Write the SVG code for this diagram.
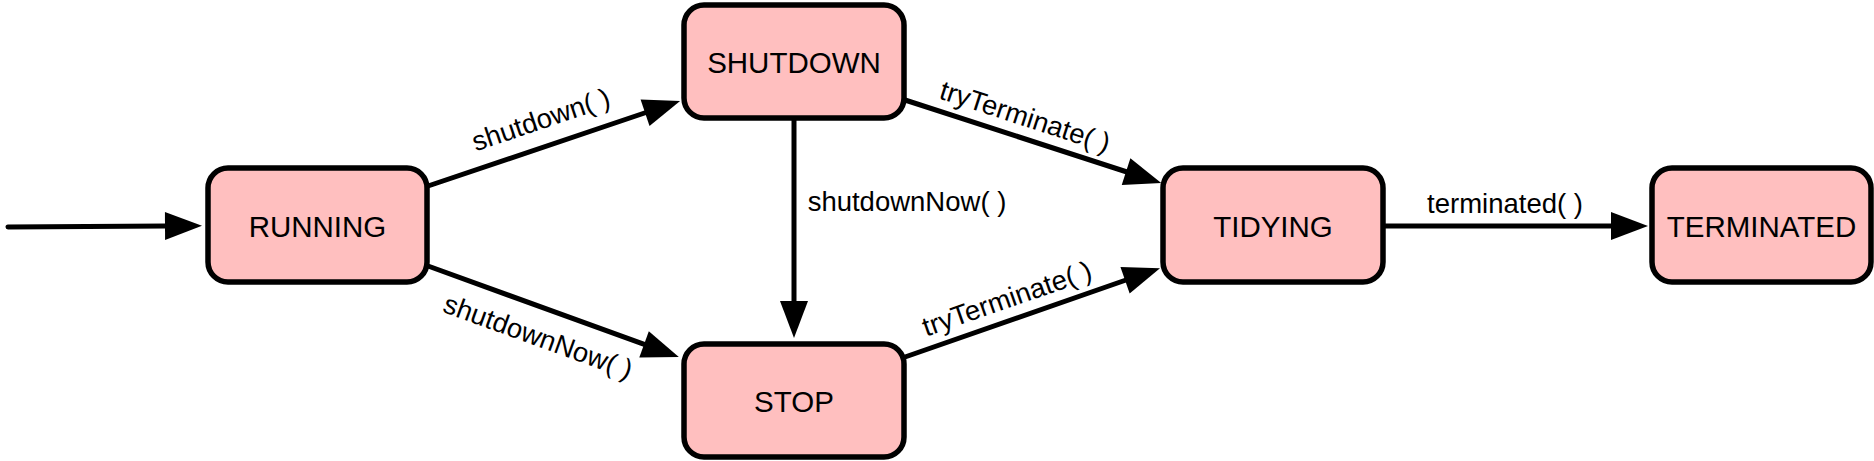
<svg xmlns="http://www.w3.org/2000/svg" width="1874" height="461" viewBox="0 0 1874 461">
<style>
.node rect{fill:#FFBFBF;stroke:#000;stroke-width:5.5}
.node text{font-family:"Liberation Sans",Arial,sans-serif;font-size:29.5px;text-anchor:middle;fill:#000}
.edge{stroke:#000;stroke-width:5;fill:none;stroke-linecap:round;marker-end:url(#arr)}
.lbl{font-family:"Liberation Sans",Arial,sans-serif;font-size:27.5px;text-anchor:middle;fill:#000}
</style>
<defs>
<marker id="arr" markerUnits="userSpaceOnUse" markerWidth="38" markerHeight="30" refX="1" refY="14" orient="auto" overflow="visible">
<polygon points="0,0 37,14 0,28" fill="#000"/>
</marker>
</defs>
<rect width="1874" height="461" fill="#fff"/>
<g id="connectors">
<path class="edge" d="M8,227 L166,226"/>
<path class="edge" d="M428,186 L646,112.5"/>
<path class="edge" d="M428,266 L645,344.7"/>
<path class="edge" d="M794,118 L794,302"/>
<path class="edge" d="M905,100 L1127,172"/>
<path class="edge" d="M905,357 L1126,280"/>
<path class="edge" d="M1385,226 L1612,226"/>
<text class="lbl" transform="translate(541,120) rotate(-18.6)" x="0" y="9">shutdown( )</text>
<text class="lbl" transform="translate(538,337) rotate(20)" x="0" y="9">shutdownNow( )</text>
<text class="lbl" x="907" y="211">shutdownNow( )</text>
<text class="lbl" transform="translate(1025,117) rotate(18)" x="0" y="9">tryTerminate( )</text>
<text class="lbl" transform="translate(1007,299) rotate(-19.2)" x="0" y="9">tryTerminate( )</text>
<text class="lbl" x="1505" y="213">terminated( )</text>
</g>
<g id="RUNNING" class="node"><rect x="208" y="168" width="219" height="114" rx="20"/><text x="317.5" y="237">RUNNING</text></g>
<g id="SHUTDOWN" class="node"><rect x="684" y="5" width="220" height="113" rx="20"/><text x="794" y="73">SHUTDOWN</text></g>
<g id="STOP" class="node"><rect x="684" y="344" width="220" height="113" rx="20"/><text x="794" y="412">STOP</text></g>
<g id="TIDYING" class="node"><rect x="1163" y="168" width="220" height="114" rx="20"/><text x="1273" y="237">TIDYING</text></g>
<g id="TERMINATED" class="node"><rect x="1652" y="168" width="219" height="114" rx="20"/><text x="1761.5" y="237">TERMINATED</text></g>
</svg>
